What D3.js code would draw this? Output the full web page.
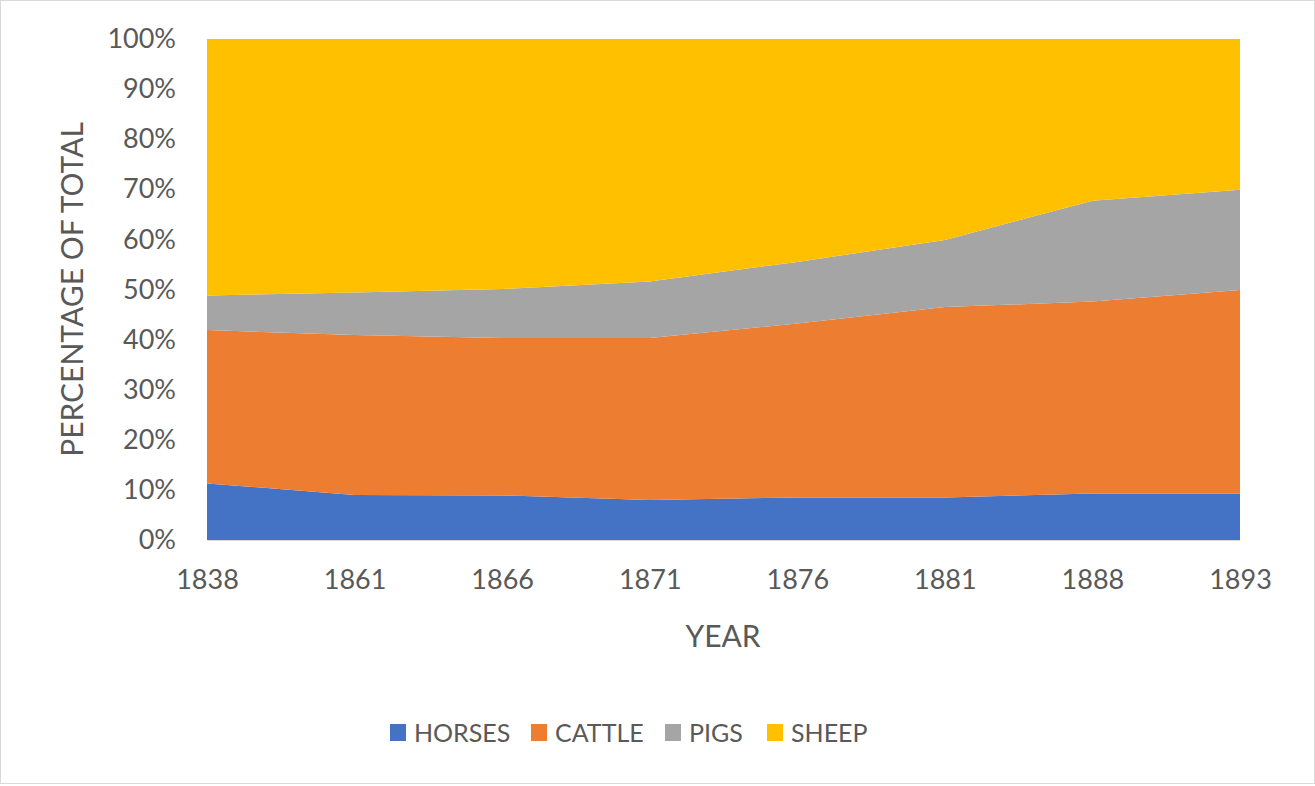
<!DOCTYPE html>
<html>
<head>
<meta charset="utf-8">
<script src="https://cdn.jsdelivr.net/npm/d3@7"></script>
<style>
  body { margin: 0; background: #fff; }
  text { font-family: Lato, "Open Sans", sans-serif; fill: #595959; }
</style>
</head>
<body>
<script>
// ----- data -----
const years = ["1838", "1861", "1866", "1871", "1876", "1881", "1888", "1893"];
const horses = [11.3, 9.0, 8.9, 8.0, 8.5, 8.5, 9.3, 9.3];
const cattle = [30.6, 31.9, 31.4, 32.3, 34.7, 38.0, 38.3, 40.6];
const pigs   = [6.9, 8.5, 9.8, 11.3, 12.3, 13.4, 20.1, 20.0];
const sheep  = [51.2, 50.6, 49.9, 48.4, 44.5, 40.1, 32.3, 30.1];
const seriesNames = ["HORSES", "CATTLE", "PIGS", "SHEEP"];
const yTicks = [0, 0.1, 0.2, 0.3, 0.4, 0.5, 0.6, 0.7, 0.8, 0.9, 1];

const colors = ["#4472c4", "#ed7d31", "#a5a5a5", "#ffc000"];

const width = 1315, height = 786;
const plotLeft = 207, plotRight = 1240, plotTop = 39, plotBottom = 540;

const svg = d3.select("body")
    .append("svg")
    .attr("width", width)
    .attr("height", height);

// chart border
svg.append("rect")
    .attr("x", 0.5).attr("y", 0.5)
    .attr("width", width - 1).attr("height", height - 3)
    .attr("fill", "#fff")
    .attr("stroke", "#d9d9d9");

const rows = years.map((y, i) => ({
    year: y, HORSES: horses[i], CATTLE: cattle[i], PIGS: pigs[i], SHEEP: sheep[i]
}));

const stacked = d3.stack()
    .keys(seriesNames)
    .offset(d3.stackOffsetExpand)(rows);

const x = d3.scalePoint().domain(years).range([plotLeft, plotRight]);
const y = d3.scaleLinear().domain([0, 1]).range([plotBottom, plotTop]);

const area = d3.area()
    .x(d => x(d.data.year))
    .y0(d => y(d[0]))
    .y1(d => y(d[1]));

svg.append("g")
    .selectAll("path")
    .data(stacked)
    .join("path")
    .attr("d", area)
    .attr("fill", (d, i) => colors[i]);

// x axis
const xAxis = svg.append("g")
    .attr("transform", "translate(0," + plotBottom + ")")
    .call(d3.axisBottom(x).tickSize(0).tickPadding(30));
xAxis.select(".domain").attr("stroke", "#d9d9d9");
xAxis.selectAll("text")
    .style("font-size", "27px")
    .attr("fill", "#595959")
    .style("font-family", "Lato, sans-serif");

// y axis
const yAxis = svg.append("g")
    .attr("transform", "translate(" + plotLeft + ",0)")
    .call(d3.axisLeft(y).tickValues(yTicks).tickFormat(d3.format(".0%")).tickSize(0).tickPadding(31));
yAxis.select(".domain").remove();
yAxis.selectAll("text")
    .style("font-size", "27px")
    .attr("fill", "#595959")
    .style("font-family", "Lato, sans-serif");

// axis titles
svg.append("text")
    .attr("transform", "translate(83," + ((plotTop + plotBottom) / 2) + ") rotate(-90)")
    .attr("text-anchor", "middle")
    .style("font-size", "30px")
    .text("PERCENTAGE OF TOTAL");

svg.append("text")
    .attr("x", 723)
    .attr("y", 647)
    .attr("text-anchor", "middle")
    .style("font-size", "30px")
    .text("YEAR");

// legend
const legendX = [390, 531, 665, 767];
const legend = svg.append("g");
seriesNames.forEach((name, i) => {
    legend.append("rect")
        .attr("x", legendX[i]).attr("y", 724)
        .attr("width", 16).attr("height", 17)
        .attr("fill", colors[i]);
    legend.append("text")
        .attr("x", legendX[i] + 24)
        .attr("y", 742)
        .style("font-size", "25px")
        .text(name);
});
</script>
</body>
</html>
